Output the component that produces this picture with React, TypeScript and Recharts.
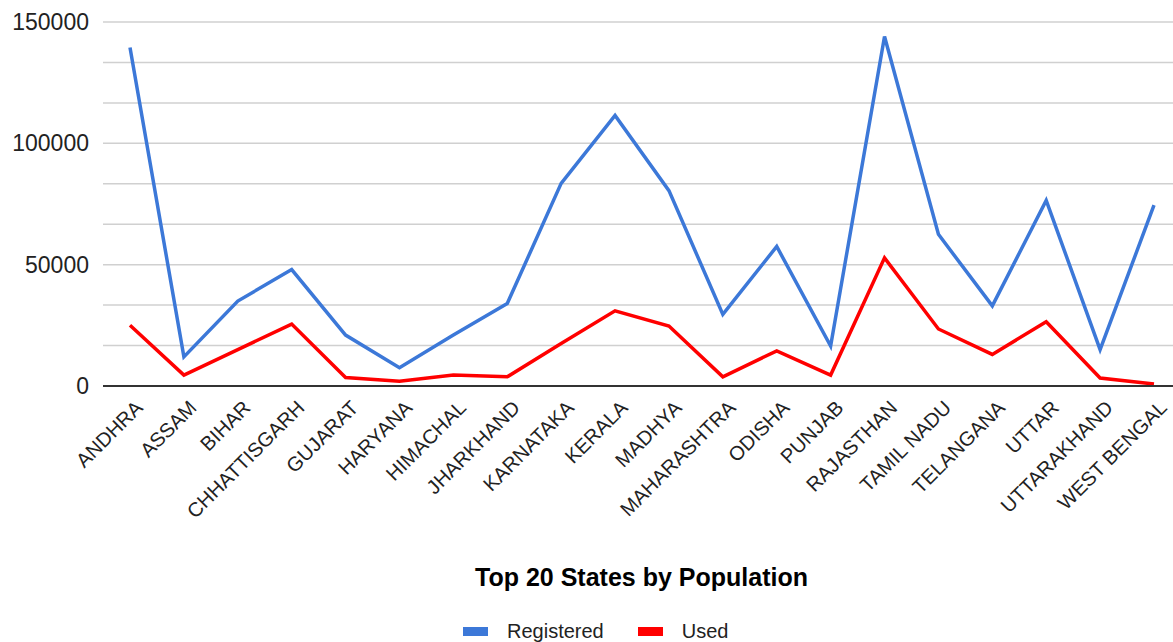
import React from "react";
import {
  LineChart,
  Line,
  XAxis,
  YAxis,
  CartesianGrid,
  Legend,
} from "recharts";

const states = [
  "ANDHRA",
  "ASSAM",
  "BIHAR",
  "CHHATTISGARH",
  "GUJARAT",
  "HARYANA",
  "HIMACHAL",
  "JHARKHAND",
  "KARNATAKA",
  "KERALA",
  "MADHYA",
  "MAHARASHTRA",
  "ODISHA",
  "PUNJAB",
  "RAJASTHAN",
  "TAMIL NADU",
  "TELANGANA",
  "UTTAR",
  "UTTARAKHAND",
  "WEST BENGAL",
];

const registered = [
  139500, 12000, 35000, 48000, 21000, 7500, 21000, 34000, 83500, 111500,
  80500, 29500, 57500, 16500, 144000, 62500, 33000, 76500, 15000, 74500,
];

const used = [
  25000, 4500, 15000, 25500, 3500, 2000, 4500, 3800, 17500, 31000, 24700,
  3800, 14500, 4500, 52800, 23500, 13000, 26500, 3300, 800,
];

const yTicks = [0, 50000, 100000, 150000];
const gridValues = [
  0, 16666.67, 33333.33, 50000, 66666.67, 83333.33, 100000, 116666.67,
  133333.33, 150000,
];

const chartTitle = "Top 20 States by Population";
const seriesNames = ["Registered", "Used"];
const seriesColors = ["#3c78d8", "#ff0000"];

const data = states.map((s, i) => ({
  state: s,
  Registered: registered[i],
  Used: used[i],
}));

const FONT = '"Liberation Sans", Arial, sans-serif';

const XTick = (props: any) => {
  const { x, y, payload } = props;
  return (
    <g transform={`translate(${x + 14},${y + 23})`}>
      <text
        textAnchor="end"
        transform="rotate(-45)"
        fontSize={20}
        fontFamily={FONT}
        fill="#222"
      >
        {payload.value}
      </text>
    </g>
  );
};

const LegendContent = () => (
  <div style={{ height: 82, width: 1173, fontFamily: FONT, color: "#222" }}>
    <div
      style={{
        paddingTop: 3,
        height: 28,
        lineHeight: "28px",
        fontSize: 25,
        fontWeight: "bold",
        textAlign: "center",
        paddingLeft: 110,
        color: "#000",
      }}
    >
      {chartTitle}
    </div>
    <div
      style={{
        marginTop: 28,
        height: 24,
        display: "flex",
        justifyContent: "flex-start",
        alignItems: "center",
        paddingLeft: 463,
      }}
    >
      {seriesNames.map((n, i) => (
        <div
          key={n}
          style={{
            display: "flex",
            alignItems: "center",
            marginRight: i === 0 ? 34 : 0,
          }}
        >
          <div
            style={{
              width: 25,
              height: 9,
              background: seriesColors[i],
              marginRight: 19,
            }}
          />
          <span style={{ fontSize: 20, lineHeight: "24px" }}>{n}</span>
        </div>
      ))}
    </div>
  </div>
);

export default function App() {
  return (
    <div style={{ position: "absolute", left: 0, top: 0, width: 1173, height: 642, background: "#fff" }}>
      <LineChart
        width={1173}
        height={642}
        data={data}
        margin={{ top: 22, right: 0, left: 0, bottom: 0 }}
      >
        <CartesianGrid
          vertical={false}
          horizontalValues={gridValues}
          stroke="#d0d0d0"
          strokeWidth={1.5}
        />
        <XAxis
          dataKey="state"
          interval={0}
          tick={<XTick />}
          tickLine={false}
          tickSize={0}
          tickMargin={0}
          axisLine={{ stroke: "#333", strokeWidth: 2 }}
          height={174}
          padding={{ left: 27, right: 19 }}
        />
        <YAxis
          domain={[0, 150000]}
          ticks={yTicks}
          width={103}
          axisLine={false}
          tickLine={false}
          tickSize={6}
          tickMargin={8}
          tick={{ fontSize: 23, fill: "#222", fontFamily: FONT }}
        />
        <Legend
          verticalAlign="bottom"
          content={<LegendContent />}
          wrapperStyle={{ left: 0, top: 560, width: 1173, height: 82 }}
        />
        <Line
          type="linear"
          dataKey="Registered"
          stroke={seriesColors[0]}
          strokeWidth={3.5}
          dot={false}
          isAnimationActive={false}
        />
        <Line
          type="linear"
          dataKey="Used"
          stroke={seriesColors[1]}
          strokeWidth={3.5}
          dot={false}
          isAnimationActive={false}
        />
      </LineChart>
    </div>
  );
}
